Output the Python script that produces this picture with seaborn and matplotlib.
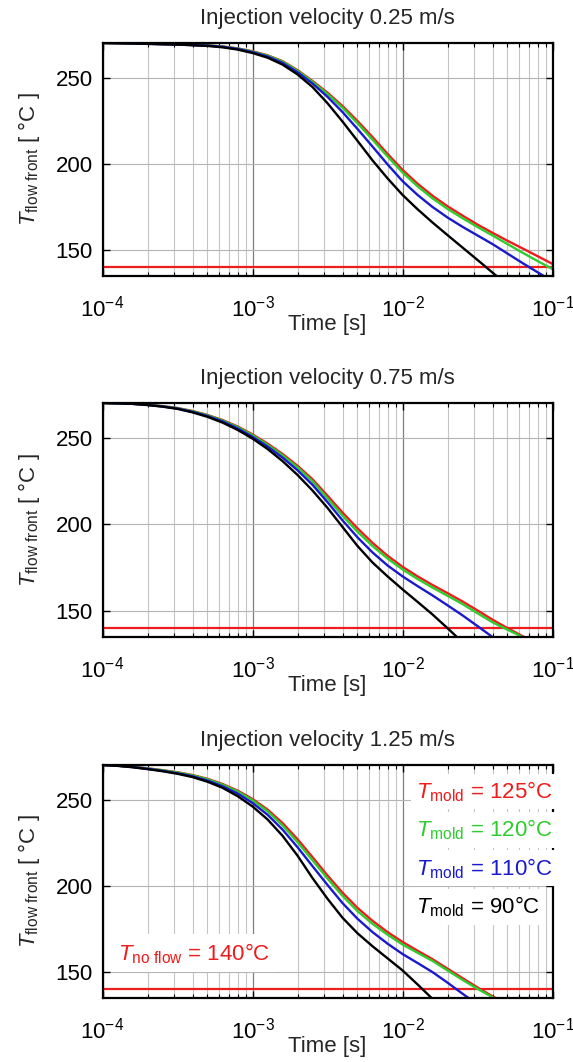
import numpy as np
import pandas as pd
import matplotlib
matplotlib.use("Agg")
import matplotlib.pyplot as plt
import seaborn as sns
from matplotlib.ticker import LogLocator, NullFormatter, FixedLocator

# ---------------- data ----------------
log_time = [-4.0, -3.9, -3.8, -3.7, -3.6, -3.5, -3.4, -3.3, -3.2, -3.1,
            -3.0, -2.9, -2.8, -2.7, -2.6, -2.5, -2.4, -2.3, -2.2, -2.1,
            -2.0, -1.9, -1.8, -1.7, -1.6, -1.5, -1.4, -1.3, -1.2, -1.1, -1.0]

titles = ["Injection velocity 0.25 m/s",
          "Injection velocity 0.75 m/s",
          "Injection velocity 1.25 m/s"]

mold_temps = ["125", "120", "110", "90"]
T_no_flow = 140

# v = 0.25 m/s
p1_red   = [270.0, 269.9, 269.7, 269.6, 269.4, 269.2, 268.9, 268.6, 268.0, 266.9, 265.2, 262.9, 259.5, 254.3, 248.0, 241.2,
            233.5, 224.8, 215.5, 205.8, 196.5, 188.5, 181.5, 175.4, 170.0, 164.8, 160.0, 155.4, 151.0, 146.5, 142.0]
p1_green = [270.0, 269.9, 269.7, 269.6, 269.4, 269.2, 268.9, 268.6, 267.9, 266.8, 265.0, 262.7, 259.2, 253.9, 247.5, 240.4,
            232.5, 223.5, 214.0, 204.3, 195.0, 187.0, 180.0, 173.9, 168.5, 163.4, 158.5, 153.5, 148.5, 143.7, 139.0]
p1_blue  = [270.0, 269.9, 269.7, 269.5, 269.3, 269.1, 268.8, 268.5, 267.8, 266.6, 264.7, 262.2, 258.5, 253.1, 246.5, 238.8,
            230.0, 220.2, 210.0, 199.7, 190.0, 182.0, 175.0, 168.9, 163.5, 158.5, 153.5, 148.0, 142.5, 137.2, 132.0]
p1_black = [270.0, 269.9, 269.7, 269.5, 269.3, 269.1, 268.7, 268.3, 267.5, 266.2, 264.2, 261.5, 257.5, 251.8, 244.5, 235.1,
            224.5, 213.3, 202.0, 191.6, 182.0, 173.7, 166.0, 158.7, 151.5, 144.3, 137.0, 129.5, 122.0, 114.5, 107.0]

# v = 0.75 m/s
p2_red   = [270.0, 269.8, 269.6, 269.0, 268.2, 267.1, 265.4, 263.1, 260.2, 256.5, 251.9, 246.6, 240.6, 233.8, 226.0, 216.5,
            206.8, 197.7, 189.3, 181.9, 175.5, 170.0, 165.0, 160.3, 155.5, 150.3, 145.0, 140.1, 135.5, 131.2, 127.0]
p2_green = [270.0, 269.8, 269.6, 269.0, 268.1, 267.0, 265.2, 262.9, 259.9, 256.1, 251.4, 245.9, 239.8, 232.9, 224.8, 215.0,
            205.0, 195.7, 187.5, 180.3, 174.0, 168.5, 163.5, 158.8, 154.0, 148.7, 143.5, 139.2, 135.0, 130.5, 126.0]
p2_blue  = [270.0, 269.8, 269.5, 268.9, 268.0, 266.8, 264.9, 262.5, 259.4, 255.4, 250.5, 244.9, 238.5, 231.2, 222.8, 212.8,
            202.3, 192.5, 183.8, 176.3, 170.0, 164.4, 159.0, 153.3, 147.5, 141.3, 135.0, 128.9, 123.0, 117.4, 112.0]
p2_black = [270.0, 269.8, 269.5, 268.8, 267.9, 266.6, 264.6, 262.0, 258.7, 254.5, 249.5, 243.5, 236.5, 228.5, 219.5, 209.5,
            198.5, 187.5, 178.0, 170.0, 162.5, 155.3, 148.0, 140.1, 132.0, 124.0, 116.0, 108.0, 100.0, 92.0, 84.0]

# v = 1.25 m/s
p3_red   = [270.0, 269.6, 269.0, 268.1, 267.0, 265.8, 264.2, 262.0, 259.0, 255.2, 250.3, 244.2, 236.4, 227.0, 216.6, 206.0,
            196.0, 187.2, 179.7, 173.2, 167.5, 162.4, 157.5, 152.0, 146.5, 141.1, 136.0, 131.6, 127.5, 123.7, 120.0]
p3_green = [270.0, 269.6, 268.9, 268.0, 266.9, 265.6, 264.0, 261.7, 258.6, 254.7, 249.6, 243.2, 235.0, 225.3, 214.8, 204.2,
            194.2, 185.3, 178.0, 171.7, 166.0, 161.2, 156.5, 151.0, 145.5, 140.3, 135.5, 131.1, 127.0, 123.0, 119.0]
p3_blue  = [270.0, 269.6, 268.8, 267.8, 266.6, 265.2, 263.5, 261.0, 257.7, 253.5, 248.0, 241.2, 232.6, 222.4, 211.4, 200.5,
            190.0, 180.9, 173.2, 166.5, 160.5, 155.3, 150.0, 143.9, 137.5, 131.3, 125.0, 118.5, 112.0, 105.5, 99.0]
p3_black = [270.0, 269.5, 268.7, 267.6, 266.4, 264.9, 263.0, 260.3, 256.8, 252.0, 246.0, 238.5, 229.0, 217.5, 204.5, 192.5,
            181.5, 172.5, 165.0, 158.0, 151.0, 142.9, 134.5, 126.3, 118.0, 109.8, 101.5, 93.3, 85.0, 76.8, 68.5]

panels = [
    [p1_red, p1_green, p1_blue, p1_black],
    [p2_red, p2_green, p2_blue, p2_black],
    [p3_red, p3_green, p3_blue, p3_black],
]

RED, GREEN, BLUE, BLACK = "#ee1c1c", "#2ecc2e", "#1a1acc", "#000000"
colors = [RED, GREEN, BLUE, BLACK]
palette = dict(zip(mold_temps, colors))

# ---------------- style ----------------
sns.set_style("ticks")
plt.rcParams["font.family"] = ["Liberation Sans", "DejaVu Sans"]
plt.rcParams["mathtext.fontset"] = "custom"
plt.rcParams["mathtext.rm"] = "Liberation Sans"
plt.rcParams["mathtext.it"] = "Liberation Sans:italic"
plt.rcParams["mathtext.bf"] = "Liberation Sans:bold"
plt.rcParams["axes.unicode_minus"] = False

FS = 16
fig = plt.figure(figsize=(5.73, 10.62), dpi=100)

W, H = 573.0, 1062.0
ax_left, ax_right = 102.5, 552.5
tops_bottoms = [(43, 276), (403, 637), (765, 998)]

time = 10.0 ** np.array(log_time)

for i, (top, bot) in enumerate(tops_bottoms):
    ax = fig.add_axes([ax_left / W, 1 - bot / H, (ax_right - ax_left) / W, (bot - top) / H])
    rows = []
    for lab, vals in zip(mold_temps, panels[i]):
        for t, v in zip(time, vals):
            rows.append({"time": t, "T": v, "mold": lab})
    df = pd.DataFrame(rows)

    ax.set_xscale("log")
    ax.axhline(T_no_flow, color=RED, lw=1.6, zorder=2)
    sns.lineplot(data=df, x="time", y="T", hue="mold", hue_order=mold_temps,
                 palette=palette, estimator=None, legend=False, lw=1.7, ax=ax,
                 zorder=2.2)

    ax.set_xlim(1e-4, 1e-1)
    ax.set_ylim(135, 270)
    ax.yaxis.set_major_locator(FixedLocator([150, 200, 250]))
    ax.xaxis.set_major_locator(LogLocator(base=10, numticks=10))
    ax.xaxis.set_minor_locator(LogLocator(base=10, subs=np.arange(2, 10), numticks=20))
    ax.xaxis.set_minor_formatter(NullFormatter())

    ax.set_axisbelow(True)
    ax.grid(True, which="major", axis="y", color="#b4b4b4", lw=0.8)
    ax.grid(True, which="major", axis="x", color="#808080", lw=0.9)
    ax.grid(True, which="minor", axis="x", color="#c4c4c4", lw=0.8)

    ax.tick_params(which="both", direction="in", top=True, right=True,
                   colors="black", labelsize=FS)
    ax.tick_params(which="major", length=5, width=1.0)
    ax.tick_params(which="minor", length=3, width=0.8)
    ax.tick_params(axis="x", which="major", pad=14)
    ax.tick_params(axis="y", which="major", pad=7)

    for sp in ax.spines.values():
        sp.set_visible(True)
        sp.set_color("black")
        sp.set_linewidth(1.6)

    ax.set_title(titles[i], fontsize=FS, pad=14)
    ax.set_xlabel("Time [s]", fontsize=FS)
    ax.xaxis.set_label_coords(0.5, -0.163)
    ax.set_ylabel(r"$T_{\mathrm{flow\ front}}$ [ °C ]", fontsize=FS)
    ax.yaxis.set_label_coords(-0.135, 0.5)

    if i == 2:
        ys = [0.857, 0.692, 0.528, 0.363]
        for lab, c, y in zip(mold_temps, colors, ys):
            ax.text(0.697, y, r"$T_{\mathrm{mold}}$ = " + lab + "°C",
                    transform=ax.transAxes, fontsize=FS, color=c,
                    ha="left", va="baseline", zorder=4,
                    bbox=dict(boxstyle="square,pad=0.25", fc="white", ec="none"))
        ax.text(0.034, 0.163, r"$T_{\mathrm{no\ flow}}$ = " + str(T_no_flow) + "°C",
                transform=ax.transAxes, fontsize=FS, color=RED,
                ha="left", va="baseline", zorder=4,
                bbox=dict(boxstyle="square,pad=0.3", fc="white", ec="none"))

fig.savefig("out.png", dpi=100)
